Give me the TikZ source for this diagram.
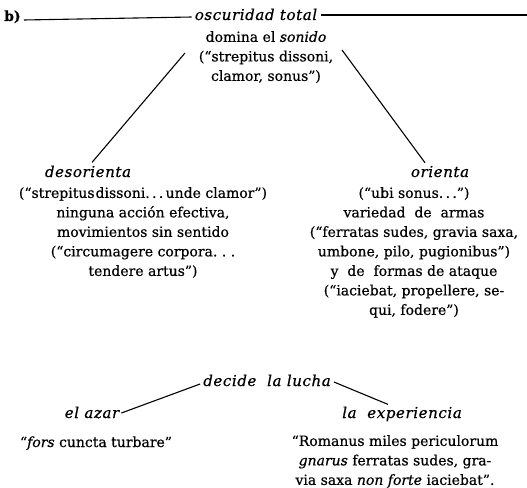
\documentclass[tikz,border=0pt]{standalone}
\usepackage{fontspec}
\setmainfont{DejaVu Serif}[FakeBold=0.6]
\begin{document}
\begin{tikzpicture}[x=1pt,y=-1pt,
  every node/.style={inner sep=0pt, font=\fontsize{14}{19.5}\selectfont},
  blk/.style={align=center, anchor=north},
  lbl/.style={anchor=base, font=\fontsize{15}{19.5}\selectfont\itshape\addfontfeature{LetterSpace=4}},
  ln/.style={line width=1.1pt}]
\useasboundingbox (0,0) rectangle (527,487);
% top
\node[anchor=base west, font=\fontsize{14}{19.5}\selectfont\bfseries] (bl) at (4,21) {b)};
\node[lbl] (osc) at (256,20) {oscuridad total};
\coordinate (redge) at (527,15);
\draw[ln] ([xshift=3pt,yshift=1pt]bl.base east) -- ([xshift=-3pt,yshift=3pt]osc.base west);
\draw[ln] ([xshift=4pt,yshift=5pt]osc.base east) -- (redge);
\node[blk] (dom) at (266,31) {domina el \textit{sonido}\\(``strepitus dissoni,\\clamor, sonus'')};
% middle
\node[lbl] (des) at (88,177) {desorienta};
\node[lbl] (ori) at (440,177) {orienta};
\coordinate (ltop) at (185,53);
\coordinate (rtop) at (342,50);
\draw[ln] (ltop) -- ([xshift=4pt,yshift=3pt]des.north);
\draw[ln] (rtop) -- ([xshift=-15pt,yshift=3pt]ori.north);
\node[blk] (lblk) at (143,187) {(``strepitus\kern1pt dissoni.\,.\,.\,unde clamor'')\\ninguna acción efectiva,\\movimientos sin sentido\\(``circumagere corpora.\ .\ .\\tendere artus'')};
\node[blk] (rblk) at (414,187) {(``ubi sonus.\,.\,.'')\\variedad\ \ de\ \ armas\\(``ferratas sudes, gravia saxa,\\umbone,\ pilo,\ pugionibus'')\\y\ \ de\ \ formas de ataque\\(``iaciebat, propellere, se-\\qui, fodere'')};
% bottom
\node[lbl] (dec) at (267,386) {decide\ \ la lucha};
\node[lbl] (aza) at (92,418) {el azar};
\node[lbl] (exp) at (402,418) {la\ \ experiencia};
\draw[ln] ([xshift=2pt,yshift=5pt]aza.base east) -- ([xshift=-3pt,yshift=2pt]dec.base west);
\draw[ln] ([xshift=3pt,yshift=4pt]dec.base east) -- ([xshift=-14pt,yshift=2pt]exp.north);
\node[anchor=base] (fors) at (96,447) {``\textit{fors} cuncta turbare''};
\node[blk] (rom) at (395,435) {``Romanus miles periculorum\\\textit{gnarus} ferratas sudes, gra-\\via saxa \textit{non forte} iaciebat''.};
\end{tikzpicture}
\end{document}
